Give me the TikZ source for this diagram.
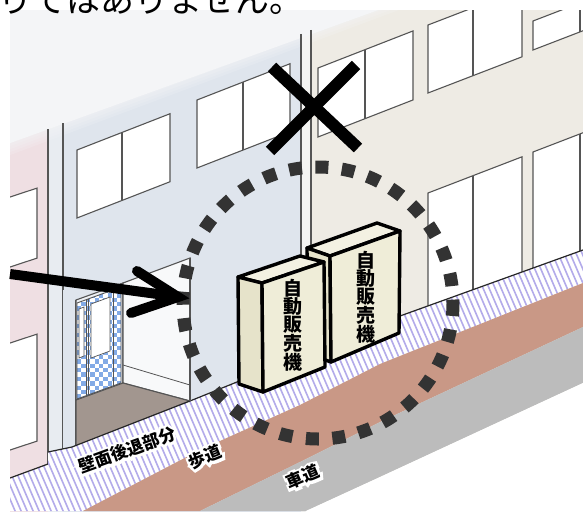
\documentclass[tikz,border=0pt]{standalone}
\usepackage{fontspec}
\newfontfamily\jp{Noto Sans CJK JP}
\newfontfamily\jphalo{Noto Sans CJK JP}[FakeBold=30]
\definecolor{facadeblue}{HTML}{DFE5ED}
\definecolor{facadebeige}{HTML}{EEEBE4}
\definecolor{facadepink}{HTML}{EFDFE3}
\definecolor{pillarcol}{HTML}{E8ECF1}
\definecolor{joint}{HTML}{F4F4F2}
\definecolor{paletop}{HTML}{F4F5F7}
\definecolor{winline}{HTML}{555555}
\definecolor{stripecol}{HTML}{B3ABEA}
\definecolor{walkway}{HTML}{C99886}
\definecolor{roadway}{HTML}{BCBCBC}
\definecolor{floorcol}{HTML}{A2968F}
\definecolor{vmface}{HTML}{EFEDD8}
\definecolor{vmside}{HTML}{E6E3CA}
\definecolor{vmtop}{HTML}{F3F1E2}
\definecolor{dotcol}{HTML}{333333}
\definecolor{checkblue}{HTML}{82AAE6}
\definecolor{backwall}{HTML}{EEF1F5}
\definecolor{sidewall}{HTML}{F8F9FA}

% window with mullion: left x, right x, top y at left, bottom y at left, mullion x, slope
\newcommand\facadewin[6]{%
  \filldraw[win] (#1,#3) -- (#2,{#3-#6*(#2-#1)}) -- (#2,{#4-#6*(#2-#1)}) -- (#1,#4) -- cycle;
  \draw[win] (#5,{#3-#6*(#5-#1)}) -- (#5,{#4-#6*(#5-#1)});}

% ground label with a white outline
\newcommand\groundlabel[4]{%
  \node[lblhalo, rotate=#3] (#1-halo) at (#2) {#4};
  \node[lbl, rotate=#3] (#1) at (#2) {#4};}

\begin{document}
\begin{tikzpicture}[x=1pt,y=-1pt,
  win/.style={fill=white, draw=winline, line width=1.1pt},
  edge/.style={draw=winline, line width=1.1pt},
  base/.style={draw=black!85, line width=1.2pt},
  stripe/.style={draw=stripecol, line width=1.6pt},
  vmbox/.style={draw=black, line width=3.4pt, line join=round},
  vmtext/.style={font=\jp\bfseries\fontsize{19}{18}\selectfont, align=center, inner sep=0pt},
  lbl/.style={font=\jp\bfseries\fontsize{17}{18}\selectfont, inner sep=0pt},
  lblhalo/.style={font=\jphalo\bfseries\fontsize{17}{18}\selectfont, text=white, inner sep=0pt},
  bigmark/.style={line width=12pt, draw=black}]
\useasboundingbox (0,0) rectangle (583,511);

\begin{scope}
\clip (10,11) rectangle (583,511);
% building facades
\fill[facadebeige] (311,0) rectangle (583,520);
\fill[facadeblue] (48,0) rectangle (311,520);
\fill[joint] (301,0) rectangle (311,520);
\fill[facadepink] (10,0) rectangle (48,520);
\fill[pillarcol] (48,0) rectangle (63,520);
% faded upper part
\fill[paletop] (0,-5) -- (420,-5) -- (0,146.8) -- cycle;
\foreach \d in {3,6,9,12}{
  \fill[paletop, opacity=0.22] (0,-5) -- (440,-5) -- (440,{-17.3+\d}) -- (0,{146.8+\d}) -- cycle;}
% building joints
\draw[edge] (48,129) -- (48,466);
\draw[edge] (63,123) -- (63,452);
\draw[edge] (301,34) -- (301,330);
\draw[edge] (311,30) -- (311,330);
% windows
\facadewin{4}{37}{199}{269}{4}{0.33}
\facadewin{4}{37}{345}{452}{4}{0.33}
\facadewin{77}{170}{150}{218}{122}{0.39}
\facadewin{197}{290}{100}{168}{243}{0.39}
\facadewin{318}{413}{68}{137}{365}{0.39}
\facadewin{428}{522}{25}{93}{473}{0.385}
\facadewin{533}{627}{21}{50}{580}{0.385}
\facadewin{428}{522}{193}{310}{473}{0.385}
\facadewin{533}{627}{152}{272}{580}{0.385}
% recessed entrance
\fill[facadeblue] (63,290) rectangle (76,450);
\draw[edge] (76,300) -- (76,448);
\filldraw[fill=backwall, edge] (76,300) -- (123,283) -- (123,383) -- (76,400) -- cycle;
\filldraw[fill=sidewall, edge] (123,283) -- (190,258) -- (190,401) -- (123,383) -- cycle;
\draw[winline, line width=0.8pt] (123,365) -- (190,385);
\filldraw[fill=floorcol, edge] (76,400) -- (123,383) -- (190,401) -- (76,446) -- cycle;
% glazed door with checkered glass
\begin{scope}
\clip (77,303) -- (121,287) -- (121,383) -- (77,399) -- cycle;
\fill[white] (70,280) rectangle (125,405);
\foreach \i in {0,...,10}{
  \foreach \j in {0,...,27}{
    \pgfmathtruncatemacro\chk{mod(\i+\j,2)}
    \ifnum\chk=0 \fill[checkblue] ({77+4.4*\i},{280+4.4*\j}) rectangle +(4.4,4.4); \fi}}
\end{scope}
\filldraw[fill=white, draw=winline, line width=0.7pt] (79,309) -- (84,307) -- (84,356) -- (79,358) -- cycle;
\filldraw[fill=white, draw=winline, line width=0.7pt] (91,304) -- (110,297) -- (110,351) -- (91,358) -- cycle;
\draw[winline, line width=0.9pt] (77,303) -- (121,287) -- (121,383) -- (77,399) -- cycle;
\draw[winline, line width=0.8pt] (86,300) -- (86,396) (88,299) -- (88,395) (113,290) -- (113,386);

% ground: setback strip, sidewalk, roadway
\fill[white] (10,478) -- (48,464) -- (48,452) -- (72,447) -- (190,401) -- (400,316) -- (583,250)
  -- (583,283) -- (380,364) -- (300,405) -- (200,450) -- (83,511) -- (10,511) -- cycle;
\begin{scope}
\clip (10,478) -- (48,464) -- (48,452) -- (72,447) -- (190,401) -- (400,316) -- (583,250)
  -- (583,283) -- (380,364) -- (300,405) -- (200,450) -- (83,511) -- (10,511) -- cycle;
\foreach \k in {-160,-154,...,600}{\draw[stripe] (\k,230) -- ++(125,290);}
\end{scope}
\fill[walkway] (83,511) -- (200,450) -- (300,405) -- (380,364) -- (583,283)
  -- (583,327) -- (380,422) -- (300,462) -- (200,511) -- cycle;
\fill[roadway] (200,511) -- (300,462) -- (380,422) -- (583,327)
  -- (583,383) -- (380,477) -- (306,511) -- cycle;
\fill[white] (306,511) -- (380,477) -- (583,383) -- (583,520) -- (300,520) -- cycle;
\draw[base] (10,478) -- (48,464);
\draw[base] (48,452) -- (72,447) -- (190,401) -- (400,316) -- (583,250);
\draw[edge] (190,258) -- (190,401);
\end{scope}

% vending machines
\filldraw[fill=vmtop, vmbox] (307,248) -- (377,223) -- (400,231) -- (330,256) -- cycle;
\filldraw[fill=vmside, vmbox] (307,248) -- (330,256) -- (331,362) -- (308,354) -- cycle;
\filldraw[fill=vmface, vmbox] (330,256) -- (400,231) -- (399,333) -- (331,362) -- cycle;
\node[vmtext] (vmtwo) at (366,297) {自\\動\\販\\売\\機};
\filldraw[fill=vmtop, vmbox] (238,277) -- (300,256) -- (324,262) -- (262,283) -- cycle;
\filldraw[fill=vmside, vmbox] (238,277) -- (262,283) -- (263,392) -- (239,384) -- cycle;
\filldraw[fill=vmface, vmbox] (262,283) -- (324,262) -- (325,367) -- (263,392) -- cycle;
\node[vmtext] (vmone) at (293,325) {自\\動\\販\\売\\機};

% ground labels
\groundlabel{setback}{127,450}{20}{壁面後退部分}
\groundlabel{walk}{205,457}{22}{歩道}
\groundlabel{road}{303,477}{23}{車道}

% dotted circle
\draw[dotcol, line width=13pt, dash pattern=on 13pt off 13.5pt]
  (318,303) ellipse [x radius=135, y radius=136];

% cross mark
\draw[bigmark] (272,67) -- (358,148);
\draw[bigmark] (356,65) -- (270,151);

% pointing arrow
\coordinate (arrowstart) at (10,274);
\coordinate (arrowtip) at (178,297);
\draw[line width=10pt] (arrowstart) -- (172,296);
\draw[line width=10pt, line cap=round, line join=miter] (137,271) -- (arrowtip) -- (131,313);

% heading text
\begin{scope}
\clip (0,0) rectangle (583,511);
\node[anchor=base west, inner sep=0pt, font=\jp\fontsize{34}{36}\selectfont] (notice) at (-36,12.5) {限りではありません。};
\end{scope}
\end{tikzpicture}
\end{document}
